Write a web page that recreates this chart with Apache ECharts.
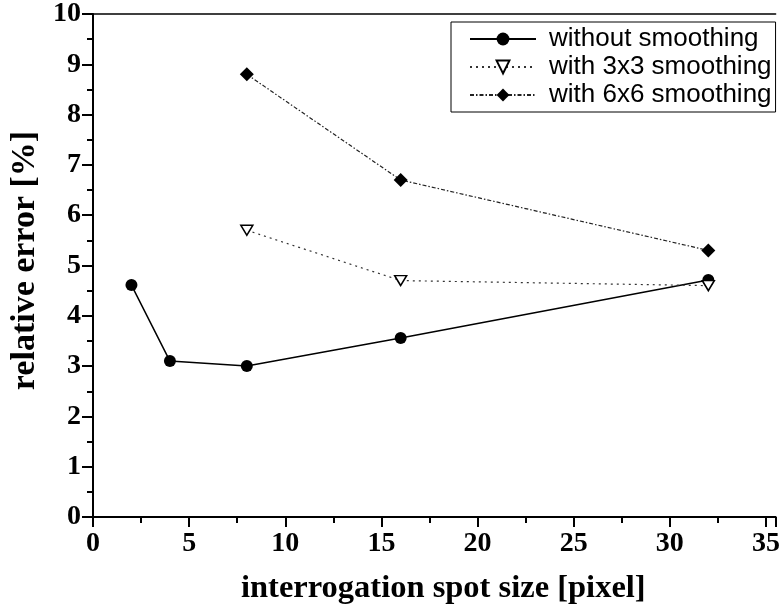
<!DOCTYPE html>
<html>
<head>
<meta charset="utf-8">
<script src="https://cdn.jsdelivr.net/npm/echarts@6/dist/echarts.min.js"></script>
<style>html,body{margin:0;padding:0;background:#fff}#c{width:783px;height:610px}</style>
</head>
<body>
<div id="c"></div>
<script>
var seriesNames = ['without smoothing', 'with 3x3 smoothing', 'with 6x6 smoothing'];
var xNoSmooth = [2, 4, 8, 16, 32];
var yNoSmooth = [4.61, 3.1, 3.0, 3.56, 4.71];
var x3x3 = [8, 16, 32];
var y3x3 = [5.7, 4.7, 4.6];
var x6x6 = [8, 16, 32];
var y6x6 = [8.8, 6.7, 5.3];
var xTicks = [0, 5, 10, 15, 20, 25, 30, 35];
var yTicks = [0, 1, 2, 3, 4, 5, 6, 7, 8, 9, 10];

function pairs(xs, ys) { return xs.map(function (x, i) { return [x, ys[i]]; }); }

var chart = echarts.init(document.getElementById('c'));
var tickFont = {fontFamily: 'Liberation Serif', fontWeight: 'bold', fontSize: 28, color: '#000'};
chart.setOption({
  animation: false,
  backgroundColor: '#fff',
  grid: {left: 92, right: 1, top: 12.5, bottom: 92, containLabel: false},
  legend: {
    orient: 'vertical',
    left: 451, top: 22,
    data: seriesNames,
    borderColor: '#000', borderWidth: 1,
    padding: [4, 4, 4, 18],
    itemWidth: 66, itemHeight: 16, itemGap: 2,
    textStyle: {fontFamily: 'Liberation Sans', fontSize: 26, color: '#000', padding: [0, 0, 0, 8]},
    symbolRotate: 'inherit'
  },
  xAxis: [{
    type: 'value', min: 0, max: 35.5, interval: 5,
    position: 'bottom',
    name: 'interrogation spot size [pixel]', nameLocation: 'middle', nameGap: 55,
    nameTextStyle: {fontFamily: 'Liberation Serif', fontWeight: 'bold', fontSize: 32.5, color: '#000', padding: [0, 0, 0, 18]},
    axisLine: {show: true, lineStyle: {color: '#000', width: 2}},
    axisTick: {show: true, inside: false, length: 10, lineStyle: {color: '#000', width: 2}},
    minorTick: {show: true, splitNumber: 2, length: 6, lineStyle: {color: '#000', width: 2}},
    splitLine: {show: false},
    axisLabel: Object.assign({margin: 13, showMaxLabel: false, formatter: function (v) { return xTicks.indexOf(v) >= 0 ? String(v) : ''; }}, tickFont)
  }, {
    type: 'value', min: 0, max: 35.5, position: 'top',
    axisLine: {show: true, onZero: false, lineStyle: {color: '#000', width: 1.5}},
    axisTick: {show: false}, axisLabel: {show: false}, splitLine: {show: false}
  }],
  yAxis: [{
    type: 'value', min: 0, max: 10, interval: 1,
    name: 'relative error [%]', nameLocation: 'middle', nameGap: 51,
    nameTextStyle: {fontFamily: 'Liberation Serif', fontWeight: 'bold', fontSize: 34, color: '#000', padding: [0, 0, 0, 10]},
    axisLine: {show: true, lineStyle: {color: '#000', width: 2}},
    axisTick: {show: true, inside: false, length: 11, lineStyle: {color: '#000', width: 2}},
    minorTick: {show: true, splitNumber: 2, length: 6, lineStyle: {color: '#000', width: 2}},
    splitLine: {show: false},
    axisLabel: Object.assign({margin: 12, formatter: function (v) { return yTicks.indexOf(v) >= 0 ? String(v) : ''; }}, tickFont)
  }],
  series: [{
    name: seriesNames[0], type: 'line', data: pairs(xNoSmooth, yNoSmooth),
    symbol: 'circle', symbolSize: 12,
    lineStyle: {color: '#000', width: 1.5, type: 'solid'},
    itemStyle: {color: '#000', borderColor: '#000', borderWidth: 0}
  }, {
    name: seriesNames[1], type: 'line', data: pairs(x3x3, y3x3),
    symbol: 'triangle', symbolRotate: 180, symbolSize: [12, 10],
    lineStyle: {color: '#333', width: 1.2, type: [2, 4]},
    itemStyle: {color: '#fff', borderColor: '#000', borderWidth: 1.5}
  }, {
    name: seriesNames[2], type: 'line', data: pairs(x6x6, y6x6),
    symbol: 'diamond', symbolSize: [14, 14],
    lineStyle: {color: '#222', width: 1.2, type: [4, 2, 1.5, 2]},
    itemStyle: {color: '#000', borderColor: '#000', borderWidth: 0}
  }]
});
</script>
</body>
</html>
